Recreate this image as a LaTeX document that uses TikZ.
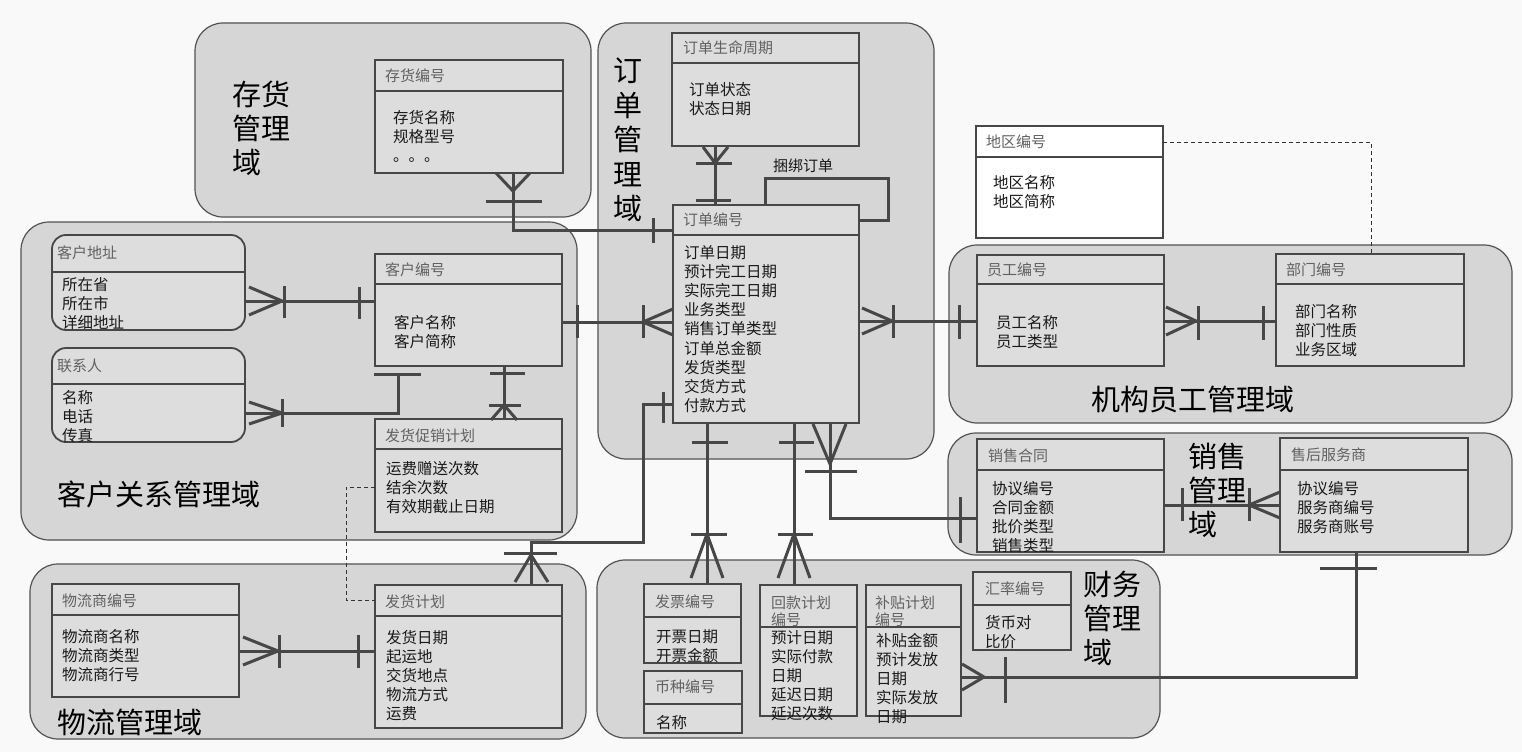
\documentclass[tikz,border=0pt]{standalone}
\usepackage{fontspec}
\newfontfamily\cjk{Noto Sans CJK SC}

\begin{document}
\begin{tikzpicture}[x=1pt,y=-1pt,
    zone/.style={draw=black!68, fill=gray!32, line width=1.2pt, rounded corners=28pt},
    ent/.style={draw=black!72, fill=gray!27, line width=1.8pt},
    entbox/.style={ent, anchor=north west, inner sep=0pt, outer sep=0pt},
    hdr/.style={font=\cjk\fontsize{15}{17}\selectfont, text=black!62, anchor=west, inner sep=0pt, align=left},
    fld/.style={font=\cjk\fontsize{15.5}{19}\selectfont, text=black!90, anchor=north west, inner sep=0pt, align=left},
    dom/.style={font=\cjk\fontsize{29}{34}\selectfont, anchor=north west, inner sep=0pt, align=left},
    rel/.style={draw=black!72, line width=3pt},
    link/.style={draw=black!80, line width=1pt, dash pattern=on 4pt off 3pt}]
            \fill[gray!5] (0,0) rectangle (1522,752);
            \useasboundingbox (0,0) rectangle (1522,752);

            \draw[zone] (195,23) rectangle (591,217);
            \draw[zone] (21,222) rectangle (577,540);
            \draw[zone] (598,23) rectangle (934,459);
            \draw[zone] (949,245) rectangle (1512,423);
            \draw[zone] (948,433) rectangle (1512,555);
            \draw[zone] (30,564) rectangle (586,739);
            \draw[zone] (597,560) rectangle (1160,738);

            \node[dom] (chgl) at (232,81) {存货\\管理\\域};
            \node[dom] (khgx) at (57,481) {客户关系管理域};
            \node[dom, font=\cjk\fontsize{29}{34.5}\selectfont] (ddgl) at (613,58) {订\\单\\管\\理\\域};
            \node[dom] (jgyg) at (1091,386) {机构员工管理域};
            \node[dom] (xsgl) at (1188,443) {销售\\管理\\域};
            \node[dom] (wlgl) at (57,709) {物流管理域};
            \node[dom] (cwgl) at (1083,571) {财务\\管理\\域};

            \node[entbox, minimum width=188pt, minimum height=113pt] (chbh) at (375,60) {};
            \draw[ent] (chbh.north west) rectangle (chbh.east |- 0,91);
            \node[hdr] (chbh-h) at (385,76) {存货编号};
            \node[fld] (chbh-f) at (393,110) {存货名称\\规格型号\\。。。};

            \node[entbox, rounded corners=14pt, minimum width=193pt, minimum height=95pt] (khdz) at (52,235) {};
            \draw[ent] (khdz.west |- 0,272) -- (khdz.east |- 0,272);
            \node[hdr] (khdz-h) at (57,253) {客户地址};
            \node[fld] (khdz-f) at (62,277) {所在省\\所在市\\详细地址};

            \node[entbox, rounded corners=14pt, minimum width=193pt, minimum height=94pt] (lxr) at (52,348) {};
            \draw[ent] (lxr.west |- 0,384) -- (lxr.east |- 0,384);
            \node[hdr] (lxr-h) at (57,366) {联系人};
            \node[fld] (lxr-f) at (62,390) {名称\\电话\\传真};

            \node[entbox, minimum width=187pt, minimum height=112pt] (khbh) at (375,254) {};
            \draw[ent] (khbh.north west) rectangle (khbh.east |- 0,284);
            \node[hdr] (khbh-h) at (385,270) {客户编号};
            \node[fld] (khbh-f) at (394,315) {客户名称\\客户简称};

            \node[entbox, minimum width=187pt, minimum height=113pt] (fhcx) at (375,419) {};
            \draw[ent] (fhcx.north west) rectangle (fhcx.east |- 0,449);
            \node[hdr] (fhcx-h) at (385,436) {发货促销计划};
            \node[fld] (fhcx-f) at (386,461) {运费赠送次数\\结余次数\\有效期截止日期};

            \node[entbox, minimum width=187pt, minimum height=113pt] (ddsm) at (672,33) {};
            \draw[ent] (ddsm.north west) rectangle (ddsm.east |- 0,63);
            \node[hdr] (ddsm-h) at (683,48) {订单生命周期};
            \node[fld] (ddsm-f) at (689,82) {订单状态\\状态日期};

            \node[entbox, minimum width=186pt, minimum height=218pt] (ddbh) at (673,205) {};
            \draw[ent] (ddbh.north west) rectangle (ddbh.east |- 0,235);
            \node[hdr] (ddbh-h) at (683,220) {订单编号};
            \node[fld, font=\cjk\fontsize{15.5}{19.2}\selectfont] (ddbh-f) at (684,245) {订单日期\\预计完工日期\\实际完工日期\\业务类型\\销售订单类型\\订单总金额\\发货类型\\交货方式\\付款方式};

            \node[entbox, fill=white, minimum width=187pt, minimum height=112pt] (dqbh) at (976,126) {};
            \draw[ent, fill=white] (dqbh.north west) rectangle (dqbh.east |- 0,157);
            \node[hdr] (dqbh-h) at (986,142) {地区编号};
            \node[fld] (dqbh-f) at (993,175) {地区名称\\地区简称};

            \node[entbox, minimum width=187pt, minimum height=111pt] (ygbh) at (977,255) {};
            \draw[ent] (ygbh.north west) rectangle (ygbh.east |- 0,284);
            \node[hdr] (ygbh-h) at (987,270) {员工编号};
            \node[fld] (ygbh-f) at (996,315) {员工名称\\员工类型};

            \node[entbox, minimum width=188pt, minimum height=112pt] (bmbh) at (1276,254) {};
            \draw[ent] (bmbh.north west) rectangle (bmbh.east |- 0,284);
            \node[hdr] (bmbh-h) at (1286,270) {部门编号};
            \node[fld] (bmbh-f) at (1295,304) {部门名称\\部门性质\\业务区域};

            \node[entbox, minimum width=187pt, minimum height=113pt] (xsht) at (977,439) {};
            \draw[ent] (xsht.north west) rectangle (xsht.east |- 0,470);
            \node[hdr] (xsht-h) at (988,456) {销售合同};
            \node[fld] (xsht-f) at (992,481) {协议编号\\合同金额\\批价类型\\销售类型};

            \node[entbox, minimum width=188pt, minimum height=114pt] (shfw) at (1280,438) {};
            \draw[ent] (shfw.north west) rectangle (shfw.east |- 0,470);
            \node[hdr] (shfw-h) at (1291,455) {售后服务商};
            \node[fld] (shfw-f) at (1297,481) {协议编号\\服务商编号\\服务商账号};

            \node[entbox, minimum width=187pt, minimum height=113pt] (wlsb) at (52,584) {};
            \draw[ent] (wlsb.north west) rectangle (wlsb.east |- 0,615);
            \node[hdr] (wlsb-h) at (62,601) {物流商编号};
            \node[fld] (wlsb-f) at (62,629) {物流商名称\\物流商类型\\物流商行号};

            \node[entbox, minimum width=187pt, minimum height=143pt] (fhjh) at (375,585) {};
            \draw[ent] (fhjh.north west) rectangle (fhjh.east |- 0,616);
            \node[hdr] (fhjh-h) at (385,602) {发货计划};
            \node[fld] (fhjh-f) at (386,630) {发货日期\\起运地\\交货地点\\物流方式\\运费};

            \node[entbox, minimum width=97pt, minimum height=79pt] (fpbh) at (644,584) {};
            \draw[ent] (fpbh.north west) rectangle (fpbh.east |- 0,617);
            \node[hdr] (fpbh-h) at (655,602) {发票编号};
            \node[fld] (fpbh-f) at (656,629) {开票日期\\开票金额};

            \node[entbox, minimum width=98pt, minimum height=62pt] (bzbh) at (644,671) {};
            \draw[ent] (bzbh.north west) rectangle (bzbh.east |- 0,704);
            \node[hdr] (bzbh-h) at (655,687) {币种编号};
            \node[fld] (bzbh-f) at (656,715) {名称};

            \node[entbox, minimum width=97pt, minimum height=131pt] (hkjh) at (760,585) {};
            \draw[ent] (hkjh.north west) rectangle (hkjh.east |- 0,627);
            \node[hdr] (hkjh-h) at (771,611.5) {回款计划\\编号};
            \node[fld] (hkjh-f) at (771,630) {预计日期\\实际付款\\日期\\延迟日期\\延迟次数};

            \node[entbox, minimum width=95pt, minimum height=131pt] (btjh) at (866,585) {};
            \draw[ent] (btjh.north west) rectangle (btjh.east |- 0,627);
            \node[hdr] (btjh-h) at (875,611.5) {补贴计划\\编号};
            \node[fld] (btjh-f) at (876,633) {补贴金额\\预计发放\\日期\\实际发放\\日期};

            \node[entbox, minimum width=98pt, minimum height=78pt] (hlbh) at (973,572) {};
            \draw[ent] (hlbh.north west) rectangle (hlbh.east |- 0,605);
            \node[hdr] (hlbh-h) at (985,589) {汇率编号};
            \node[fld] (hlbh-f) at (985,615) {货币对\\比价};

            \draw[rel] (chbh.south -| 513,0) |- (ddbh.west |- 0,230);
            \draw[rel] (496,173) -- (513,191) -- (530,173);
            \draw[rel] (486,201) -- (542,201);
            \draw[rel] (653,218) -- (653,243);

            \draw[rel] (khdz.east |- 0,301) -- (khbh.west |- 0,301);
            \draw[rel] (249,287) -- (282,301) -- (249,315);
            \draw[rel] (284,286) -- (284,318);
            \draw[rel] (359,287) -- (359,319);

            \draw[rel] (lxr.east |- 0,413) -| (398,374);
            \draw[rel] (249,402) -- (282,413) -- (249,424);
            \draw[rel] (282,399) -- (282,427);
            \draw[rel] (374,374) -- (421,374);

            \draw[rel] (khbh.south -| 504,0) -- (fhcx.north -| 504,0);
            \draw[rel] (490,373) -- (525,373);
            \draw[rel] (489,405) -- (521,405);
            \draw[rel] (491,420) -- (504,405) -- (517,420);

            \draw[rel] (khbh.east |- 0,322) -- (ddbh.west |- 0,322);
            \draw[rel] (577,305) -- (577,338);
            \draw[rel] (673,309) -- (643,322) -- (673,335);
            \draw[rel] (643,305) -- (643,338);

            \draw[rel] (ddsm.south -| 715,0) -- (ddbh.north -| 715,0);
            \draw[rel] (703,147) -- (715,163) -- (728,147);
            \draw[rel] (696,163) -- (732,163);
            \draw[rel] (696,200) -- (731,200);

            \draw[rel] (ddbh.north -| 765,0) |- (888,178) |- (ddbh.east |- 0,220);
            \node[hdr, text=black!90] (kbdd) at (773,166) {捆绑订单};

            \draw[rel] (ddbh.east |- 0,321) -- (ygbh.west |- 0,321);
            \draw[rel] (862,308) -- (892,321) -- (862,334);
            \draw[rel] (893,305) -- (893,338);
            \draw[rel] (959,305) -- (959,339);

            \draw[rel] (ygbh.east |- 0,321) -- (bmbh.west |- 0,321);
            \draw[rel] (1166,307) -- (1196,321) -- (1166,335);
            \draw[rel] (1198,306) -- (1198,340);
            \draw[rel] (1263,306) -- (1263,340);

            \draw[link] (dqbh.east |- 0,142) -| (bmbh.north -| 1371,0);

            \draw[rel] (ddbh.south -| 830,0) |- (xsht.west |- 0,518);
            \draw[rel] (813,424) -- (830,464) -- (846,424);
            \draw[rel] (805,471) -- (857,471);
            \draw[rel] (960,497) -- (960,543);

            \draw[rel] (ddbh.south -| 707,0) -- (fpbh.north -| 707,0);
            \draw[rel] (692,442) -- (728,442);
            \draw[rel] (691,534) -- (727,534);
            \draw[rel] (691,578) -- (707,534) -- (723,578);

            \draw[rel] (ddbh.south -| 794,0) -- (hkjh.north -| 794,0);
            \draw[rel] (779,442) -- (814,442);
            \draw[rel] (778,534) -- (813,534);
            \draw[rel] (778,578) -- (794,534) -- (810,578);

            \draw[rel] (ddbh.west |- 0,404) -| (643,542) -| (fhjh.north -| 531,0);
            \draw[rel] (663,392) -- (663,423);
            \draw[rel] (504,553) -- (557,553);
            \draw[rel] (515,582) -- (531,555) -- (548,582);

            \draw[rel] (wlsb.east |- 0,651) -- (fhjh.west |- 0,651);
            \draw[rel] (243,637) -- (278,651) -- (243,665);
            \draw[rel] (279,635) -- (279,668);
            \draw[rel] (358,635) -- (358,668);

            \draw[link] (fhcx.west |- 0,487) -| (346,600) -- (fhjh.west |- 0,600);

            \draw[rel] (xsht.east |- 0,505) -- (shfw.west |- 0,505);
            \draw[rel] (1182,488) -- (1182,521);
            \draw[rel] (1280,492) -- (1249,505) -- (1280,518);
            \draw[rel] (1249,488) -- (1249,521);

            \draw[rel] (shfw.south -| 1356,0) |- (btjh.east |- 0,677);
            \draw[rel] (1320,568) -- (1377,568);
            \draw[rel] (962,664) -- (984,677) -- (962,690);
            \draw[rel] (1005,657) -- (1005,703);
\end{tikzpicture}
\end{document}
